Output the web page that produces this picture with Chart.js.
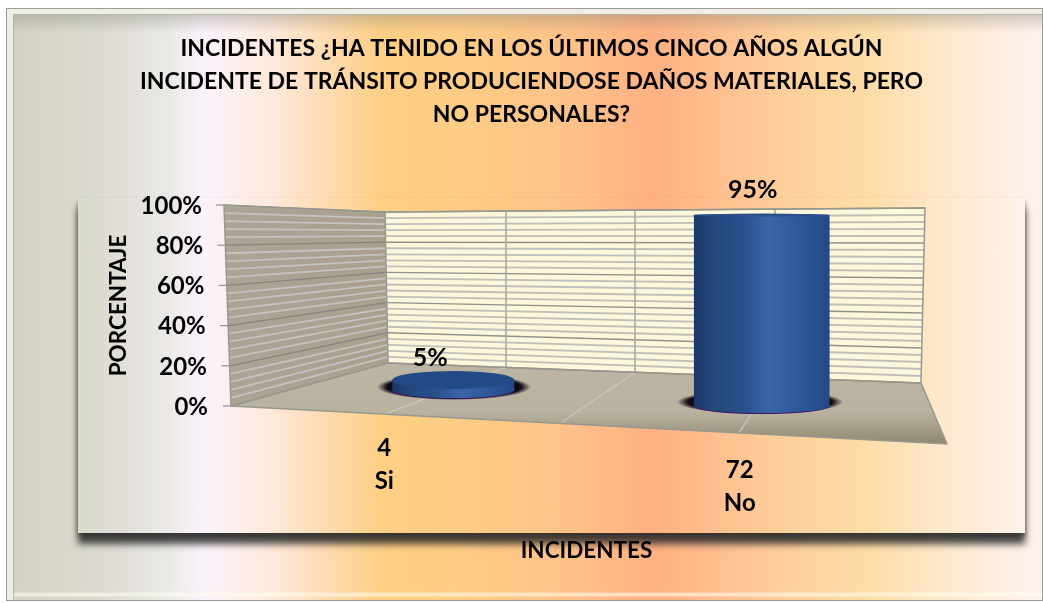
<!DOCTYPE html>
<html lang="es">
<head>
  <meta charset="UTF-8" />
  <title>Incidentes</title>
  <style>
    html, body { margin: 0; padding: 0; background: #fff; }
    #frame {
      position: absolute;
      left: 6px; top: 8px; width: 1037px; height: 593px;
      box-sizing: border-box;
      border: 1px solid #9c9c92;
      background: #eeeeE6;
    }
    #inner {
      position: absolute;
      left: 6px; top: 5px; right: 0; bottom: 0;
      border-left: 1px solid #b5b5aa;
      border-top: 1px solid #b5b5aa;
      background:
        linear-gradient(to bottom, rgba(130,130,120,0.35), rgba(130,130,120,0) 18px),
        linear-gradient(to right, #d4d3c3 0, #d8d7ca 50px, #e0ded6 107px, #eceae8 157px, #fcf2fc 192px, #fee9da 260px, #fed9ab 320px, #fecf84 368px, #fecd86 440px, #fec189 560px, #feb083 638px, #febc8d 690px, #fed19c 780px, #fedda6 855px, #fee9cd 930px, #fff0e6 1000px, #fef0ee 1031px);
    }
    #glow {
      position: absolute;
      left: 0; right: 0; bottom: 4px; height: 3px;
      background: rgba(255,255,240,0.75);
      filter: blur(1px);
    }
    #panel {
      position: absolute;
      left: 78px; top: 198px; width: 947px; height: 335px;
      background: linear-gradient(to right, #dad9cd 0, #e0ded6 42px, #eceae8 92px, #fcf2fc 127px, #fee9da 195px, #fed9ab 255px, #fecf84 303px, #fecd86 375px, #fec189 495px, #feb083 573px, #febc8d 625px, #fed19c 715px, #fedda6 790px, #fee9cd 865px, #fff0e6 935px, #fef0ee 947px);
      box-shadow: 0 11px 7px rgba(40,40,40,0.85), 0 3px 4px rgba(60,60,60,0.6);
    }
    canvas { position: absolute; left: 0; top: 0; }
  </style>
</head>
<body>
  <div id="frame"><div id="inner"><div id="glow"></div></div></div>
  <div id="panel"></div>
  <canvas id="chart" width="1043" height="603"></canvas>

  <script src="https://cdn.jsdelivr.net/npm/chart.js@4"></script>
  <script>
    const titleLines = [
      'INCIDENTES ¿HA TENIDO EN LOS ÚLTIMOS CINCO AÑOS ALGÚN',
      'INCIDENTE DE TRÁNSITO PRODUCIENDOSE DAÑOS MATERIALES, PERO',
      'NO PERSONALES?'
    ];
    const categories = ['Si', 'No'];
    const counts = [4, 72];
    const percents = [5, 95];
    const yTitle = 'PORCENTAJE';
    const xTitle = 'INCIDENTES';

    const FONT = "Lato, 'Open Sans', sans-serif";

    // the 3D look of the original: corners of the box in page pixels
    const wall = {
      frontX: [231, 224],
      backLeftX: [388, 385], backLeftY: [363, 212],
      backRightX: [921, 925], backRightY: [383, 208],
      floorFrontRight: [947, 444]
    };
    const backVerticals = [506, 635, 775];
    const floorFront = [385, 560, 739];

    // per bar tweaks for the perspective
    const barStyle = {
      dx: [46, -4],
      dy: [-16, 0],
      scaleX: [0.9, 1],
      topRy: [9, 1.5],
      baseRy: [8, 7],
      labelDx: [-23, -9],
      labelDy: [-22, -25],
      shadow: [[454, 387, 77, 13], [760, 402, 83, 12]]
    };
    const BAR_WIDTH = 135;

    function lerp(a, b, t) { return a + (b - a) * t; }

    function line(ctx, x1, y1, x2, y2, color, width) {
      ctx.strokeStyle = color;
      ctx.lineWidth = width;
      ctx.beginPath();
      ctx.moveTo(x1, y1);
      ctx.lineTo(x2, y2);
      ctx.stroke();
    }

    function poly(ctx, pts, fill) {
      ctx.fillStyle = fill;
      ctx.beginPath();
      pts.forEach((p, i) => i ? ctx.lineTo(p[0], p[1]) : ctx.moveTo(p[0], p[1]));
      ctx.closePath();
      ctx.fill();
    }

    function cylinderFill(c) {
      const x = c.chart.scales.x;
      if (!x || c.dataIndex === undefined) return '#2a5090';
      const cx = x.getPixelForTick(c.dataIndex);
      const g = c.chart.ctx.createLinearGradient(cx - BAR_WIDTH / 2, 0, cx + BAR_WIDTH / 2, 0);
      g.addColorStop(0, '#1a3868');
      g.addColorStop(0.12, '#234579');
      g.addColorStop(0.38, '#2b518e');
      g.addColorStop(0.55, '#3a65a8');
      g.addColorStop(0.78, '#2f5899');
      g.addColorStop(1, '#244a84');
      return g;
    }

    const box3d = {
      id: 'box3d',
      afterLayout(chart) {
        // title sits a little right of the page centre
        chart.titleBlock.left += 9;
        chart.titleBlock.right += 9;
        // axis labels follow the slope of the box
        const xs = chart.scales.x, ys = chart.scales.y;
        xs.getLabelItems().forEach((item, i) => {
          item.options.translation[0] -= i * 3;
          item.options.translation[1] += i * 22;
        });
        ys.getLabelItems().forEach((item, i) => {
          item.options.translation[0] += lerp(3, -3, ys.ticks[i].value / 100);
          item.options.translation[1] += 1;
        });
      },
      beforeDraw(chart) {
        const ctx = chart.ctx, ys = chart.scales.y;
        const L = wall;
        const front = v => [lerp(L.frontX[0], L.frontX[1], v / 100), ys.getPixelForValue(v)];
        const backL = v => [lerp(L.backLeftX[0], L.backLeftX[1], v / 100), lerp(L.backLeftY[0], L.backLeftY[1], v / 100)];
        const backR = v => [lerp(L.backRightX[0], L.backRightX[1], v / 100), lerp(L.backRightY[0], L.backRightY[1], v / 100)];

        ctx.save();
        ctx.lineCap = 'butt';

        // back wall
        poly(ctx, [backL(100), backR(100), backR(0), backL(0)], '#fdf7dc');
        // left wall
        const lw = ctx.createLinearGradient(224, 0, 388, 0);
        lw.addColorStop(0, '#aca595');
        lw.addColorStop(1, '#a99f8d');
        poly(ctx, [front(100), backL(100), backL(0), front(0)], lw);
        // floor
        const fl = ctx.createLinearGradient(0, 365, 0, 444);
        fl.addColorStop(0, '#bdb5a3');
        fl.addColorStop(0.6, '#b8b2a0');
        fl.addColorStop(1, '#8f8871');
        poly(ctx, [front(0), backL(0), backR(0), L.floorFrontRight], fl);

        // minor lines
        for (let v = 4; v < 100; v += 4) {
          if (v % 20 === 0) continue;
          const f = front(v), a = backL(v), b = backR(v);
          line(ctx, f[0], f[1], a[0], a[1], '#c4c3bf', 1.8);
          line(ctx, a[0], a[1], b[0], b[1], '#c0bfb9', 1.8);
        }
        // major lines and axis ticks
        ys.ticks.forEach(t => {
          const f = front(t.value), a = backL(t.value), b = backR(t.value);
          line(ctx, f[0], f[1], a[0], a[1], '#85847f', 1.2);
          line(ctx, a[0], a[1], b[0], b[1], '#92928c', 1.4);
          line(ctx, f[0] - 8, f[1], f[0], f[1], '#8f8f8f', 1.2);
        });
        // verticals on the back wall and their lines over the floor
        const slope = x => lerp(L.backRightY[0] - 0, L.backLeftY[0], (L.backRightX[0] - x) / (L.backRightX[0] - L.backLeftX[0]));
        backVerticals.forEach((x, i) => {
          const topY = lerp(L.backLeftY[1], L.backRightY[1], (x - L.backLeftX[1]) / (L.backRightX[1] - L.backLeftX[1]));
          line(ctx, x, topY, x, slope(x), '#a9aaa8', 1.6);
          const fx = floorFront[i];
          const fy = lerp(ys.getPixelForValue(0), L.floorFrontRight[1], (fx - L.frontX[0]) / (L.floorFrontRight[0] - L.frontX[0]));
          line(ctx, x, slope(x), fx, fy, '#c9c8c0', 1.3);
        });
        // box outline
        ctx.strokeStyle = '#98988f';
        ctx.lineWidth = 1.5;
        ctx.beginPath();
        const f100 = front(100), f0 = front(0), b100 = backL(100), b0 = backL(0), r100 = backR(100), r0 = backR(0);
        ctx.moveTo(f0[0], f0[1]); ctx.lineTo(f100[0], f100[1]); ctx.lineTo(b100[0], b100[1]);
        ctx.lineTo(r100[0], r100[1]); ctx.lineTo(r0[0], r0[1]); ctx.lineTo(L.floorFrontRight[0], L.floorFrontRight[1]);
        ctx.lineTo(f0[0], f0[1]);
        ctx.moveTo(b100[0], b100[1]); ctx.lineTo(b0[0], b0[1]); ctx.lineTo(f0[0], f0[1]);
        ctx.moveTo(b0[0], b0[1]); ctx.lineTo(r0[0], r0[1]);
        ctx.stroke();
        ctx.restore();
      },
      beforeDatasetDraw(chart, args) {
        const ctx = chart.ctx, s = barStyle;
        args.meta.data.forEach((el, i) => {
          // dark halo under the column
          const sh = s.shadow[i];
          ctx.save();
          ctx.translate(sh[0], sh[1]);
          ctx.scale(1, sh[3] / sh[2]);
          const halo = ctx.createRadialGradient(0, 0, sh[2] * 0.72, 0, 0, sh[2]);
          halo.addColorStop(0, 'rgba(8,4,14,1)');
          halo.addColorStop(0.55, 'rgba(8,4,14,0.95)');
          halo.addColorStop(1, 'rgba(8,4,14,0)');
          ctx.fillStyle = halo;
          ctx.beginPath();
          ctx.arc(0, 0, sh[2], 0, Math.PI * 2);
          ctx.fill();
          ctx.restore();

          // the column itself: library bar with rounded ends
          ctx.save();
          ctx.translate(el.x + s.dx[i], s.dy[i]);
          ctx.scale(s.scaleX[i], 1);
          ctx.translate(-el.x, 0);
          const rx = BAR_WIDTH / 2;

          ctx.fillStyle = '#3d1466';
          ctx.beginPath();
          ctx.ellipse(el.x, el.base, rx + 1, s.baseRy[i] + 1, 0, 0, Math.PI * 2);
          ctx.fill();

          ctx.fillStyle = el.options.backgroundColor;
          ctx.beginPath();
          ctx.ellipse(el.x, el.base, rx, s.baseRy[i], 0, 0, Math.PI * 2);
          ctx.fill();

          el.draw(ctx);

          ctx.fillStyle = i === 0 ? '#234a85' : '#2b4f8c';
          ctx.beginPath();
          ctx.ellipse(el.x, el.y, rx, s.topRy[i], 0, 0, Math.PI * 2);
          ctx.fill();
          ctx.restore();

          // value above the column
          ctx.save();
          ctx.fillStyle = '#000';
          ctx.font = 'bold 25px ' + FONT;
          ctx.textAlign = 'center';
          ctx.textBaseline = 'middle';
          ctx.fillText(percents[i] + '%', el.x + s.dx[i] + s.labelDx[i], el.y + s.dy[i] + s.labelDy[i]);
          ctx.restore();
        });
        return false;
      }
    };

    new Chart(document.getElementById('chart'), {
      type: 'bar',
      data: {
        labels: categories.map((c, i) => [String(counts[i]), c]),
        datasets: [{
          label: yTitle,
          data: percents,
          barThickness: BAR_WIDTH,
          backgroundColor: cylinderFill,
          borderWidth: 0
        }]
      },
      plugins: [box3d],
      options: {
        responsive: false,
        animation: false,
        layout: {
          autoPadding: false,
          padding: { left: 100, right: 98, top: 32, bottom: 0 }
        },
        plugins: {
          legend: { display: false },
          tooltip: { enabled: false },
          title: {
            display: true,
            text: titleLines,
            color: '#000',
            font: { family: FONT, size: 23, weight: 'bold', lineHeight: 33 / 23 },
            padding: { top: 0, bottom: 74 }
          }
        },
        scales: {
          x: {
            grid: { display: false },
            border: { display: false },
            afterFit(scale) { scale.height = 197; },
            ticks: {
              color: '#000',
              autoSkip: false,
              maxRotation: 0,
              padding: 18,
              labelOffset: -23,
              font: { family: FONT, size: 24, weight: 'bold', lineHeight: 33 / 24 }
            },
            title: {
              display: true,
              text: xTitle,
              color: '#000',
              font: { family: FONT, size: 22.5, weight: 'bold' },
              padding: { top: 0, bottom: 39 }
            }
          },
          y: {
            min: 0,
            max: 100,
            grid: { display: false },
            border: { display: false },
            afterFit(scale) { scale.width = 128; },
            ticks: {
              stepSize: 20,
              padding: 15,
              color: '#000',
              font: { family: FONT, size: 24, weight: 'bold' },
              callback: v => v + '%'
            },
            title: {
              display: true,
              text: yTitle,
              color: '#000',
              font: { family: FONT, size: 22.5, weight: 'bold' },
              padding: { top: 5, bottom: 0 }
            }
          }
        }
      }
    });
  </script>
</body>
</html>
